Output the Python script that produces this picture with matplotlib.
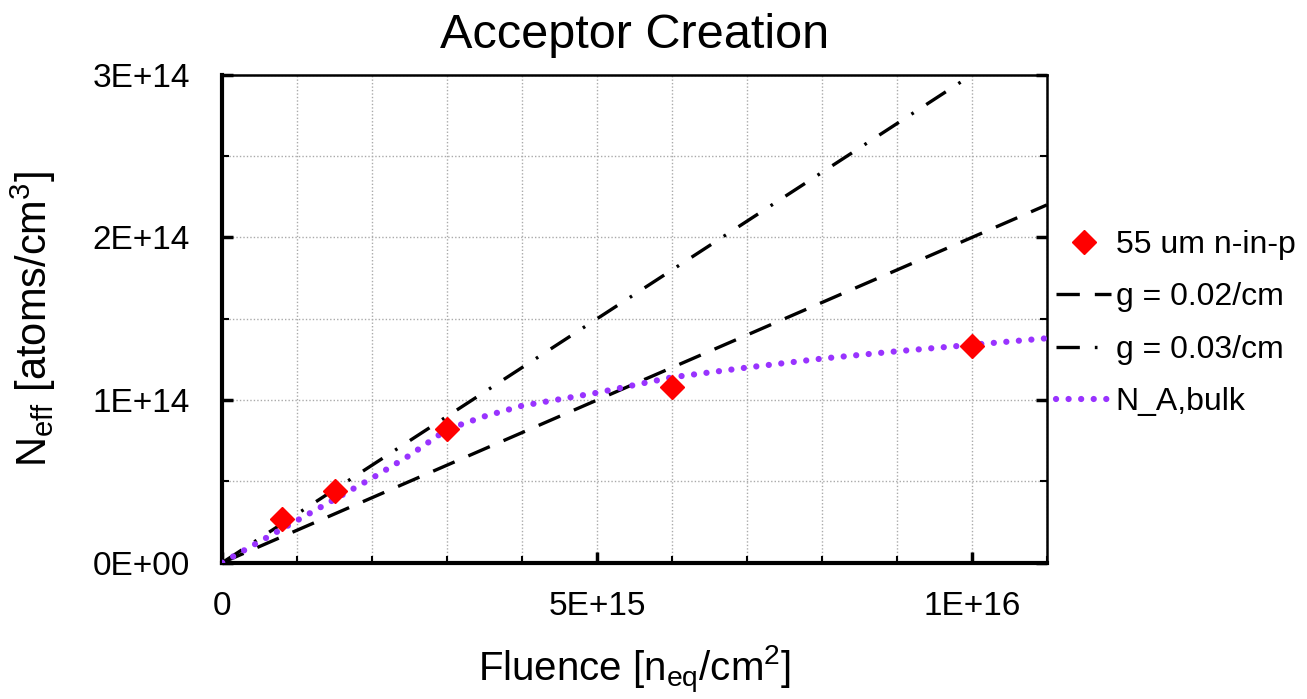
import numpy as np
import matplotlib.pyplot as plt
from matplotlib.ticker import FixedLocator, MultipleLocator

plt.rcParams['font.family'] = ['Liberation Sans', 'DejaVu Sans']

# measured points (55 um n-in-p)
fluence_meas = [0.8e15, 1.5e15, 3e15, 6e15, 1e16]
neff_meas = [2.7e13, 4.4e13, 8.2e13, 1.08e14, 1.33e14]

# model lines
fluence_line = [0, 1.1e16]
neff_g002 = [0, 2.2e14]
neff_g003 = [0, 3.3e14]

# N_A,bulk curve
fluence_bulk = [0, 0.5e15, 1e15, 1.5e15, 2e15, 2.5e15, 3e15, 3.5e15, 4e15, 5e15,
                6e15, 7e15, 8e15, 9e15, 1e16, 1.1e16]
neff_bulk = [0, 1.3e13, 2.6e13, 3.9e13, 5.2e13, 6.6e13, 8.2e13, 9.0e13, 9.65e13,
             1.045e14, 1.14e14, 1.2e14, 1.255e14, 1.3e14, 1.34e14, 1.38e14]

xticks = [0, 5e15, 1e16]
xtick_labels = ['0', '5E+15', '1E+16']
yticks = [0, 1e14, 2e14, 3e14]
ytick_labels = ['0E+00', '1E+14', '2E+14', '3E+14']

fig = plt.figure(figsize=(13.07, 6.99), dpi=100)
ax = fig.add_axes([0.170, 0.195, 0.631, 0.698])

ax.plot(fluence_meas, neff_meas, linestyle='none', marker='D', color='red',
        markersize=12, label='55 um n-in-p', zorder=5)
ax.plot(fluence_line, neff_g002, color='black', linewidth=2.4,
        dashes=(7, 4.5), label='g = 0.02/cm', zorder=3)
ax.plot(fluence_line, neff_g003, color='black', linewidth=2.4,
        dashes=(7, 4.5, 0.8, 4.5), label='g = 0.03/cm', zorder=3)
ax.plot(fluence_bulk, neff_bulk, color='#9933ff', linewidth=4.5,
        dashes=(0.01, 2.0), dash_capstyle='round', label='N_A,bulk', zorder=4)

ax.set_xlim(0, 1.1e16)
ax.set_ylim(0, 3e14)

ax.xaxis.set_major_locator(FixedLocator(xticks))
ax.xaxis.set_minor_locator(MultipleLocator(1e15))
ax.yaxis.set_major_locator(FixedLocator(yticks))
ax.yaxis.set_minor_locator(MultipleLocator(5e13))
ax.set_xticklabels(xtick_labels)
ax.set_yticklabels(ytick_labels)

ax.grid(which='both', color='#aaaaaa', linestyle=(0, (1, 1.5)), linewidth=1)
ax.tick_params(which='both', direction='in', labelsize=24, top=False, right=True,
               color='black')
ax.tick_params(which='major', length=8, width=2.5)
ax.tick_params(which='minor', length=5, width=1.5)
ax.tick_params(axis='y', which='major', pad=23)
ax.tick_params(axis='x', which='major', pad=20.5)

for side in ['left', 'bottom']:
    ax.spines[side].set_linewidth(3)
for side in ['top', 'right']:
    ax.spines[side].set_linewidth(1.8)

ax.set_title('Acceptor Creation', fontsize=35, pad=19)
ax.set_xlabel('Fluence [n$_{\\mathregular{eq}}$/cm$^{\\mathregular{2}}$]', fontsize=29, labelpad=16)
ax.set_ylabel('N$_{\\mathregular{eff}}$ [atoms/cm$^{\\mathregular{3}}$]', fontsize=30, labelpad=25)

ax.legend(loc='center left', bbox_to_anchor=(1.0, 0.49), frameon=False,
          fontsize=23, handlelength=1.7, handletextpad=0.15, labelspacing=0.7,
          borderaxespad=0, borderpad=0.3)

fig.savefig('out.png', dpi=100)
